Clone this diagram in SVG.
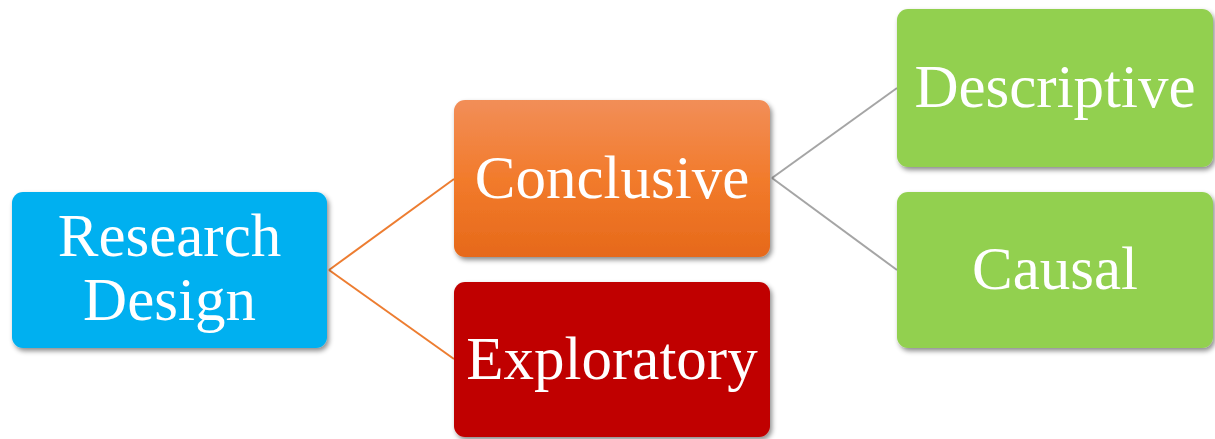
<svg xmlns="http://www.w3.org/2000/svg" width="1215" height="439" viewBox="0 0 1215 439">
<style>
.lbl{font-family:'Liberation Serif','Times New Roman',Times,serif;font-size:61px;fill:#fff;text-anchor:middle}
.c1{stroke:#ED7D31;stroke-width:2;fill:none}
.c2{stroke:#A5A5A5;stroke-width:2;fill:none}
</style>
<defs>
<filter id="sh" x="-10%" y="-10%" width="125%" height="130%">
<feDropShadow dx="2" dy="3" stdDeviation="2.5" flood-color="#000" flood-opacity="0.45"/>
</filter>
<linearGradient id="og" x1="0" y1="0" x2="0" y2="1">
<stop offset="0" stop-color="#F28E58"/>
<stop offset="0.5" stop-color="#F27B2C"/>
<stop offset="1" stop-color="#E6691A"/>
</linearGradient>
</defs>
<g id="connectors">
<line class="c1" x1="329" y1="270" x2="454" y2="179"/>
<line class="c1" x1="329" y1="270" x2="454" y2="359"/>
<line class="c2" x1="772" y1="178" x2="897" y2="88"/>
<line class="c2" x1="772" y1="178" x2="897" y2="270"/>
</g>
<g id="research-design">
<rect x="12" y="192" width="315" height="156" rx="11" fill="#00B0F0" filter="url(#sh)"/>
<text class="lbl" x="169.5" y="256">Research</text>
<text class="lbl" x="169.5" y="320">Design</text>
</g>
<g id="conclusive">
<rect x="454" y="100" width="316" height="157" rx="11" fill="url(#og)" filter="url(#sh)"/>
<text class="lbl" x="612" y="198">Conclusive</text>
</g>
<g id="exploratory">
<rect x="454" y="282" width="316" height="155" rx="11" fill="#C00000" filter="url(#sh)"/>
<text class="lbl" x="612" y="379">Exploratory</text>
</g>
<g id="descriptive">
<rect x="897" y="9" width="316" height="158" rx="11" fill="#92D050" filter="url(#sh)"/>
<text class="lbl" x="1055" y="107">Descriptive</text>
</g>
<g id="causal">
<rect x="897" y="192" width="316" height="156" rx="11" fill="#92D050" filter="url(#sh)"/>
<text class="lbl" x="1055" y="289">Causal</text>
</g>
</svg>
